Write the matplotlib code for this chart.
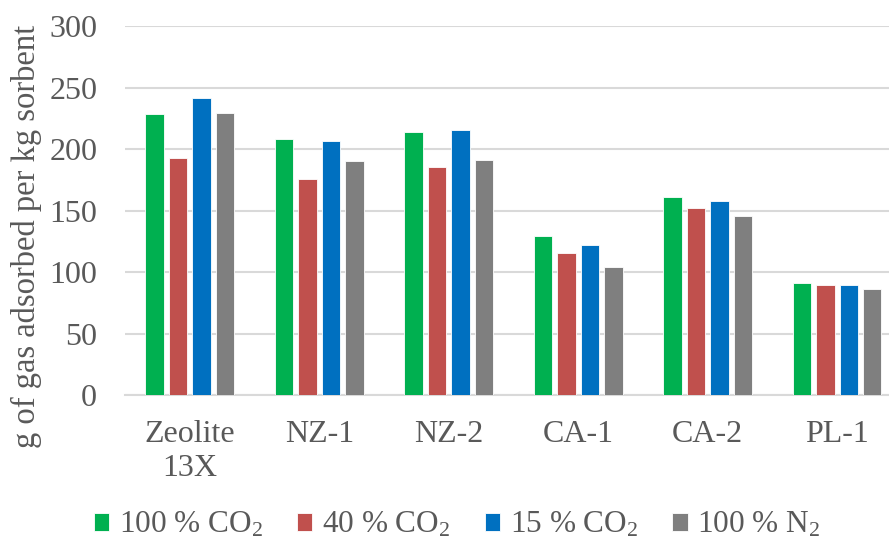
import matplotlib.pyplot as plt
import numpy as np

# sorbents and uptake values (g gas / kg sorbent)
sorbents = ['Zeolite\n13X', 'NZ-1', 'NZ-2', 'CA-1', 'CA-2', 'PL-1']
co2_100 = [228.8, 208.2, 213.6, 129.2, 160.7, 91.2]
co2_40 = [193.0, 175.9, 185.9, 115.3, 151.9, 89.3]
co2_15 = [241.6, 206.6, 215.8, 121.8, 157.6, 89.3]
n2_100 = [229.4, 190.3, 191.1, 103.9, 145.8, 86.3]

series_names = ['100 % CO$_2$', '40 % CO$_2$', '15 % CO$_2$', '100 % N$_2$']
colors = ['#00b050', '#c0504d', '#0070c0', '#7f7f7f']

plt.rcParams['font.family'] = ['Liberation Serif', 'DejaVu Serif']
plt.rcParams['mathtext.fontset'] = 'custom'
plt.rcParams['mathtext.rm'] = 'Liberation Serif'
plt.rcParams['mathtext.it'] = 'Liberation Serif'
plt.rcParams['mathtext.default'] = 'rm'
text_col = '#595959'

fig = plt.figure(figsize=(8.89, 5.43), dpi=100)
ax = fig.add_axes([0.1406, 0.2726, 0.8594, 0.679])

x = np.arange(len(sorbents))
slot = 0.181
width = 0.141
for i, (vals, name, c) in enumerate(zip([co2_100, co2_40, co2_15, n2_100], series_names, colors)):
    ax.bar(x + (i - 1.5) * slot, vals, width, color=c, label=name,
           edgecolor='white', linewidth=0.6, zorder=3)

ax.set_ylim(0, 300)
ax.set_yticks(range(0, 301, 50))
ax.set_xlim(-0.5, 5.4)
ax.set_xticks(x)
ax.set_xticklabels(sorbents, linespacing=1.25)
ax.grid(axis='y', color='#d9d9d9', linewidth=1.5, zorder=0)
for s in ['top', 'right', 'left']:
    ax.spines[s].set_visible(False)
ax.spines['bottom'].set_color('#d9d9d9')
ax.spines['bottom'].set_linewidth(1.5)
ax.tick_params(length=0, labelsize=23, colors=text_col)
ax.tick_params(axis='y', pad=20)
ax.tick_params(axis='x', pad=18)
ax.set_ylabel('g of gas adsorbed per kg sorbent', fontsize=23.5, color=text_col)
ax.yaxis.set_label_coords(-0.108, 0.43)

fig.legend(loc='center', bbox_to_anchor=(0.514, 0.033), ncol=4, frameon=False,
           fontsize=22.5, labelcolor=text_col, handlelength=0.5, handleheight=0.5,
           handletextpad=0.3, columnspacing=1.1)

fig.savefig('out.png', dpi=100)
